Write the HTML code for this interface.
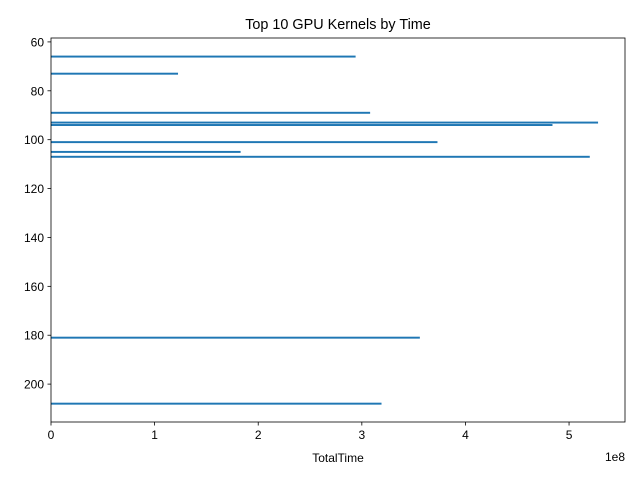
<!DOCTYPE html>
<html><head><meta charset="utf-8"><style>
body{margin:0;background:#fff}
svg text{font-family:"Liberation Sans",sans-serif;fill:#000}
</style></head><body>
<svg id="chart" width="640" height="480" xmlns="http://www.w3.org/2000/svg"></svg>
<script>
const kernelIds = [66, 73, 89, 93, 94, 101, 105, 107, 181, 208];
const totalTimes = [2.94e8, 1.226e8, 3.08e8, 5.28e8, 4.84e8, 3.73e8, 1.83e8, 5.20e8, 3.56e8, 3.19e8];
const xTicks = [0, 1e8, 2e8, 3e8, 4e8, 5e8];
const xTickLabels = ["0", "1", "2", "3", "4", "5"];
const yTicks = [60, 80, 100, 120, 140, 160, 180, 200];

const NS = "http://www.w3.org/2000/svg";
const svg = document.getElementById("chart");
const L = 51, R = 625, T = 38, B = 422;
const xMin = 0, xMax = 5.54e8, yMin = 58.4, yMax = 215.5;
const xs = v => L + (v - xMin) / (xMax - xMin) * (R - L);
const ys = v => T + (v - yMin) / (yMax - yMin) * (B - T);
function mk(tag, attrs, parent) {
  const e = document.createElementNS(NS, tag);
  for (const k in attrs) e.setAttribute(k, attrs[k]);
  (parent || svg).appendChild(e);
  return e;
}
const bh = (ys(0.8) - ys(0));
kernelIds.forEach((k, i) => {
  const r = mk("rect", {x: xs(0), y: ys(k) - bh / 2, width: xs(totalTimes[i]) - xs(0), height: bh, fill: "#1f77b4"});
  
  
});
const frame = mk("rect", {x: L, y: T, width: R - L, height: B - T, fill: "none", stroke: "#000", "stroke-width": 0.8});


xTicks.forEach((v, i) => {
  const x = xs(v);
  mk("line", {x1: x, x2: x, y1: B, y2: B + 3.5, stroke: "#000", "stroke-width": 0.8});
  const t = mk("text", {x: x, y: B + 17, "font-size": 12, "text-anchor": "middle"});
  t.textContent = xTickLabels[i];
  
  
});
yTicks.forEach(v => {
  const y = ys(v);
  mk("line", {x1: L - 3.5, x2: L, y1: y, y2: y, stroke: "#000", "stroke-width": 0.8});
  const t = mk("text", {x: L - 7, y: y + 4.5, "font-size": 12, "text-anchor": "end"});
  t.textContent = v;
  
  
});
const title = mk("text", {x: (L + R) / 2, y: 29, "font-size": 14.4, "text-anchor": "middle"});
title.textContent = "Top 10 GPU Kernels by Time";


const xl = mk("text", {x: (L + R) / 2, y: 462, "font-size": 12, "text-anchor": "middle"});
xl.textContent = "TotalTime";


const off = mk("text", {x: R, y: 461, "font-size": 12, "text-anchor": "end"});
off.textContent = "1e8";


</script>
</body></html>
